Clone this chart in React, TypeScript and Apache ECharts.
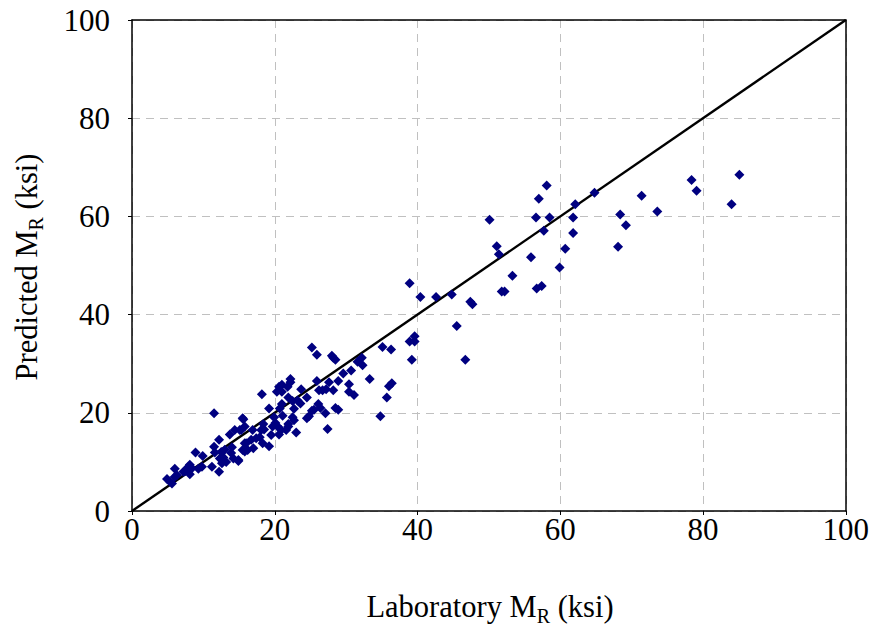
import React, { useEffect, useRef } from "react";
import * as echarts from "echarts";

const labX: number[] = [
  78.4, 79.1, 85.1, 84.0, 71.4, 68.4, 69.2, 73.6, 68.1, 58.1, 57.0, 56.6, 58.5, 57.7, 50.1, 51.1, 51.4, 53.3, 55.9, 51.8,
  52.2, 56.7, 57.4, 59.9, 60.7, 61.8, 61.8, 62.1, 64.8,
  38.9, 40.4, 42.6, 44.8, 47.4, 47.7, 45.5, 39.6, 39.6, 38.9, 35.1, 36.3, 39.2, 46.7,
  25.2, 25.9, 28.0, 28.2, 28.5, 32.2, 31.6, 32.3, 29.6, 30.7, 33.3, 30.4, 30.4, 31.1, 27.6, 28.9, 28.2, 25.9, 26.2, 26.7,
  27.2, 22.2, 22.2, 21.8, 20.6, 21.0, 20.3, 21.0, 18.2, 23.7, 24.5, 21.9, 22.5, 23.2, 23.6, 22.7, 19.2, 20.7, 21.0, 26.1,
  26.4, 25.5, 25.2, 24.8, 24.5, 27.1, 28.5, 28.9, 34.8, 35.7, 36.4, 36.0, 22.7, 22.5, 21.9, 21.1, 19.9, 20.1, 19.7, 20.4,
  20.9, 20.6, 21.6, 21.9, 27.4, 15.5, 18.1, 18.4, 18.5, 16.9, 17.4, 17.9, 18.3, 19.2, 16.7, 16.0, 15.3,
  11.5, 15.6, 12.2, 13.7, 14.4, 15.1, 11.5, 11.6, 8.9, 9.9, 11.2, 12.2, 12.3, 12.8, 13.2, 12.6, 13.9, 14.2, 14.9, 14.9,
  15.8, 9.3, 9.8, 7.9, 8.1, 7.7, 8.4, 7.4, 7.2, 6.0, 6.0, 6.3, 4.9, 5.3, 5.6, 8.1, 15.8, 15.8, 16.2, 15.5, 13.0, 12.5,
  14.0, 17.0, 19.5, 23.0,
];

const predY: number[] = [
  67.4, 65.2, 68.5, 62.5, 64.2, 60.4, 58.2, 61.0, 53.8, 66.3, 63.6, 59.8, 59.8, 57.1, 59.3, 53.9, 52.3, 47.9, 51.7, 44.7,
  44.7, 45.3, 45.8, 49.6, 53.4, 56.6, 59.8, 62.5, 64.8,
  46.4, 43.6, 43.6, 44.1, 42.6, 42.1, 37.7, 35.6, 34.5, 34.5, 33.4, 32.9, 30.8, 30.8,
  33.3, 31.8, 31.6, 31.2, 30.8, 31.2, 30.4, 29.7, 28.0, 28.6, 26.9, 25.8, 24.3, 23.6, 26.2, 26.5, 24.6, 26.5, 24.6, 24.6,
  24.8, 26.9, 26.2, 25.3, 25.3, 25.7, 24.3, 24.3, 23.8, 24.8, 23.1, 23.1, 22.4, 22.5, 21.9, 20.8, 20.9, 20.9, 21.8, 21.8,
  21.0, 20.6, 20.4, 19.3, 18.9, 19.9, 21.0, 20.6, 19.3, 23.1, 26.0, 25.4, 18.5, 19.1, 17.7, 19.4, 19.1, 17.9, 17.2, 17.2,
  16.5, 15.6, 16.5, 17.2, 16.7, 18.9, 16.5, 17.7, 16.6, 16.5, 14.8, 15.0, 13.8, 13.2, 14.5, 13.8, 16.5,
  19.9, 18.7, 14.5, 15.6, 16.5, 16.5, 13.1, 11.9, 11.9, 11.2, 9.0, 8.0, 10.7, 10.9, 10.0, 9.7, 11.8, 10.7, 10.4, 10.2,
  12.1, 8.6, 9.0, 9.0, 9.4, 8.5, 8.7, 8.1, 8.0, 8.6, 7.0, 7.3, 6.5, 6.0, 5.6, 7.5, 17.2, 13.8, 12.4, 12.4, 12.5, 12.0,
  13.0, 12.8, 15.5, 16.0,
];

const lineX: number[] = [0, 100];
const lineY: number[] = [0, 100];

const FONT = "Liberation Serif";

export default function App() {
  const ref = useRef<HTMLDivElement>(null);
  useEffect(() => {
    if (!ref.current) return;
    const chart = echarts.init(ref.current, undefined, { renderer: "svg" });
    const pts = labX.map((x, i) => [x, predY[i]]);
    const line = lineX.map((x, i) => [x, lineY[i]]);
    const richStyles = {
      a: { fontFamily: FONT, fontSize: 30.5, color: "#000", lineHeight: 38 },
      s: { fontFamily: FONT, fontSize: 20, color: "#000", verticalAlign: "bottom" },
    };
    const frameAxis = {
      type: "value",
      min: 0,
      max: 100,
      interval: 20,
      axisLine: { show: true, onZero: false, lineStyle: { color: "#000", width: 1.5 } },
      axisTick: { show: false },
      axisLabel: { show: false },
      splitLine: { show: false },
    };
    chart.setOption({
      animation: false,
      backgroundColor: "#fff",
      grid: {
        left: 132,
        right: 23,
        top: 20,
        bottom: 119,
      },
      xAxis: [
        {
          type: "value",
          min: 0,
          max: 100,
          interval: 20,
          axisLine: { show: true, onZero: false, lineStyle: { color: "#000", width: 1.5 } },
          axisTick: { show: true, length: 4, lineStyle: { color: "#000" } },
          axisLabel: { fontFamily: FONT, fontSize: 31, color: "#000", margin: 3 },
          splitLine: { show: true, lineStyle: { color: "#c0c0c0", type: [8, 6], width: 1 } },
        },
        { ...frameAxis, position: "top" },
      ],
      yAxis: [
        {
          type: "value",
          min: 0,
          max: 100,
          interval: 20,
          axisLine: { show: true, onZero: false, lineStyle: { color: "#000", width: 1.5 } },
          axisTick: { show: true, length: 4, lineStyle: { color: "#000" } },
          axisLabel: { fontFamily: FONT, fontSize: 31, color: "#000", margin: 22 },
          splitLine: { show: true, lineStyle: { color: "#c0c0c0", type: [8, 6], width: 1 } },
        },
        { ...frameAxis, position: "right" },
      ],
      graphic: [
        {
          type: "text",
          x: 490,
          y: 607,
          style: {
            text: "{a|Laboratory M}{s|R}{a| (ksi)}",
            align: "center",
            verticalAlign: "middle",
            rich: richStyles,
          },
        },
        {
          type: "text",
          x: 27,
          y: 267,
          rotation: Math.PI / 2,
          style: {
            text: "{a|Predicted M}{s|R}{a| (ksi)}",
            align: "center",
            verticalAlign: "middle",
            rich: richStyles,
          },
        },
      ],
      series: [
        {
          type: "line",
          data: line,
          symbol: "none",
          lineStyle: { color: "#000", width: 2.4 },
          z: 3,
        },
        {
          type: "scatter",
          data: pts,
          symbol: "diamond",
          symbolSize: 10,
          itemStyle: { color: "#000080", opacity: 1 },
          z: 4,
        },
      ],
    });
    return () => chart.dispose();
  }, []);
  return (
    <div
      ref={ref}
      style={{ position: "fixed", left: 0, top: 0, width: 872, height: 630, background: "#fff" }}
    />
  );
}
